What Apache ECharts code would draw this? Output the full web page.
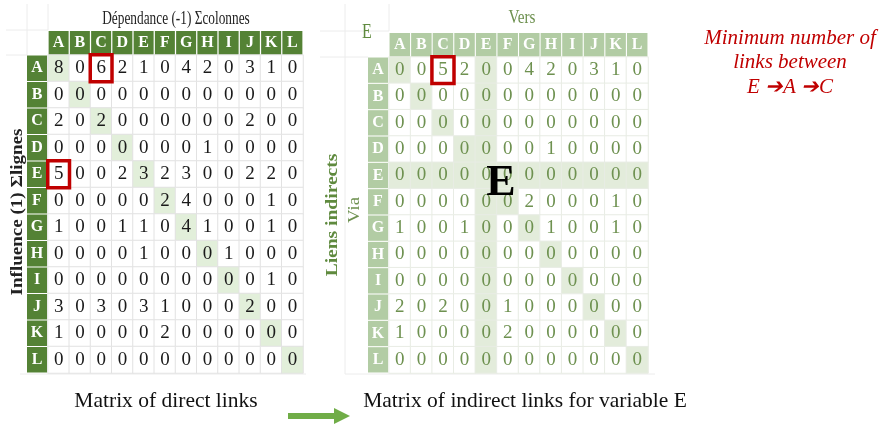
<!DOCTYPE html>
<html><head><meta charset="utf-8">
<script src="https://cdn.jsdelivr.net/npm/echarts@6/dist/echarts.min.js"></script>
<style>html,body{margin:0;padding:0;background:#fff;}#c{width:881px;height:426px;}</style>
</head><body><div id="c"></div>
<script>
// ---- data ----
var categories = ['A','B','C','D','E','F','G','H','I','J','K','L'];
// Matrix of direct links (rows = influence, cols = dependence)
var directA = [8,0,6,2,1,0,4,2,0,3,1,0];
var directB = [0,0,0,0,0,0,0,0,0,0,0,0];
var directC = [2,0,2,0,0,0,0,0,0,2,0,0];
var directD = [0,0,0,0,0,0,0,1,0,0,0,0];
var directE = [5,0,0,2,3,2,3,0,0,2,2,0];
var directF = [0,0,0,0,0,2,4,0,0,0,1,0];
var directG = [1,0,0,1,1,0,4,1,0,0,1,0];
var directH = [0,0,0,0,1,0,0,0,1,0,0,0];
var directI = [0,0,0,0,0,0,0,0,0,0,1,0];
var directJ = [3,0,3,0,3,1,0,0,0,2,0,0];
var directK = [1,0,0,0,0,2,0,0,0,0,0,0];
var directL = [0,0,0,0,0,0,0,0,0,0,0,0];
var directRows = [directA,directB,directC,directD,directE,directF,directG,directH,directI,directJ,directK,directL];
// Matrix of indirect links via E
var indirA = [0,0,5,2,0,0,4,2,0,3,1,0];
var indirB = [0,0,0,0,0,0,0,0,0,0,0,0];
var indirC = [0,0,0,0,0,0,0,0,0,0,0,0];
var indirD = [0,0,0,0,0,0,0,1,0,0,0,0];
var indirE = [0,0,0,0,0,0,0,0,0,0,0,0];
var indirF = [0,0,0,0,0,0,2,0,0,0,1,0];
var indirG = [1,0,0,1,0,0,0,1,0,0,1,0];
var indirH = [0,0,0,0,0,0,0,0,0,0,0,0];
var indirI = [0,0,0,0,0,0,0,0,0,0,0,0];
var indirJ = [2,0,2,0,0,1,0,0,0,0,0,0];
var indirK = [1,0,0,0,0,2,0,0,0,0,0,0];
var indirL = [0,0,0,0,0,0,0,0,0,0,0,0];
var indirRows = [indirA,indirB,indirC,indirD,indirE,indirF,indirG,indirH,indirI,indirJ,indirK,indirL];
var viaVariable = 'E';
// highlighted cells [col, row]
var directBoxes = [['C','A'],['A','E']];
var indirBoxes = [['C','A']];

// ---- build ----
var SERIF = '"Liberation Serif","Times New Roman",serif';
var viaIdx = categories.indexOf(viaVariable);
function buildData(rows, shadeFn) {
  var out = [];
  rows.forEach(function (r, i) {
    r.forEach(function (v, j) {
      out.push({ value: [j, i, v], itemStyle: { color: shadeFn(i, j) } });
    });
  });
  return out;
}
var dData = buildData(directRows, function (i, j) { return i === j ? '#e2efda' : '#ffffff'; });
var iData = buildData(indirRows, function (i, j) {
  return (i === j || i === viaIdx || j === viaIdx) ? '#e3ecdb' : '#ffffff';
});
function boxData(list) {
  return list.map(function (b) { return [categories.indexOf(b[0]), categories.indexOf(b[1]), 0]; });
}

var G1 = { left: 48, top: 55, width: 255, height: 318 };
var G2 = { left: 389, top: 57, width: 259, height: 316 };

function xAx(gi, bg, w) {
  return {
    type: 'category', data: categories, gridIndex: gi, position: 'top',
    axisLine: { show: false }, axisTick: { show: false }, splitLine: { show: false },
    axisLabel: {
      interval: 0, margin: 0, color: '#ffffff', fontFamily: SERIF, fontWeight: 'bold', fontSize: 16,
      backgroundColor: bg, width: w, height: 24, lineHeight: 24, align: 'center'
    }
  };
}
function yAx(gi, bg, h) {
  return {
    type: 'category', data: categories, gridIndex: gi, inverse: true,
    axisLine: { show: false }, axisTick: { show: false }, splitLine: { show: false },
    axisLabel: {
      interval: 0, margin: 11, color: '#ffffff', fontFamily: SERIF, fontWeight: 'bold', fontSize: 16,
      backgroundColor: bg, width: 20, height: h, lineHeight: h, align: 'center', padding: 0
    }
  };
}

var faint = '#ececec';
function ln(x1, y1, x2, y2) {
  return { type: 'line', shape: { x1: x1, y1: y1, x2: x2, y2: y2 }, style: { stroke: faint, lineWidth: 1 }, silent: true };
}

var option = {
  animation: false,
  backgroundColor: '#ffffff',
  grid: [
    Object.assign({ containLabel: false }, G1),
    Object.assign({ containLabel: false }, G2)
  ],
  xAxis: [xAx(0, '#548235', 20), xAx(1, '#b2cca4', 20.5)],
  yAxis: [yAx(0, '#548235', 25.5), yAx(1, '#b2cca4', 25.3)],
  series: [
    {
      type: 'heatmap', xAxisIndex: 0, yAxisIndex: 0, data: dData,
      itemStyle: { borderColor: '#e2e2e2', borderWidth: 1 },
      label: { show: true, formatter: function (p) { return p.value[2]; }, color: '#1a1a1a', fontFamily: SERIF, fontSize: 19 },
      emphasis: { disabled: true }
    },
    {
      type: 'heatmap', xAxisIndex: 0, yAxisIndex: 0, data: boxData(directBoxes), z: 5,
      itemStyle: { color: 'rgba(0,0,0,0)', borderColor: '#c00000', borderWidth: 3.5 },
      label: { show: false }, emphasis: { disabled: true }
    },
    {
      type: 'heatmap', xAxisIndex: 1, yAxisIndex: 1, data: iData,
      itemStyle: { borderColor: '#e8ece4', borderWidth: 1 },
      label: { show: true, formatter: function (p) { return p.value[2]; }, color: '#6e9150', fontFamily: SERIF, fontSize: 19 },
      emphasis: { disabled: true }
    },
    {
      type: 'heatmap', xAxisIndex: 1, yAxisIndex: 1, data: boxData(indirBoxes), z: 5,
      itemStyle: { color: 'rgba(0,0,0,0)', borderColor: '#c00000', borderWidth: 3.5 },
      label: { show: false }, emphasis: { disabled: true }
    }
  ],
  graphic: [
    // faint spreadsheet lines
    ln(27, 4, 27, 55), ln(48, 4, 48, 30), ln(6, 30, 48, 30), ln(6, 55, 27, 55), ln(20, 374, 306, 374),
    ln(345, 4, 345, 374), ln(389, 4, 389, 31), ln(320, 31, 389, 31), ln(320, 57, 368, 57), ln(345, 374, 655, 374),
    { type: 'text', x: 176, y: 19, scaleX: 0.74, style: { text: 'Dépendance (-1) Σcolonnes', font: '18px ' + SERIF, fill: '#222', align: 'center', verticalAlign: 'middle' } },
    { type: 'text', x: 18, y: 212, rotation: Math.PI / 2, scaleX: 1.12, style: { text: 'Influence (1) Σlignes', font: 'bold 17px ' + SERIF, fill: '#222', align: 'center', verticalAlign: 'middle' } },
    { type: 'text', x: 522, y: 18, scaleX: 0.8, style: { text: 'Vers', font: '19px ' + SERIF, fill: '#6e9150', align: 'center', verticalAlign: 'middle' } },
    { type: 'text', x: 367, y: 33, scaleX: 0.8, style: { text: viaVariable, font: '20px ' + SERIF, fill: '#5f8a3e', align: 'center', verticalAlign: 'middle' } },
    { type: 'text', x: 333, y: 215, rotation: Math.PI / 2, scaleX: 1.22, style: { text: 'Liens indirects', font: 'bold 16px ' + SERIF, fill: '#5f8a3e', align: 'center', verticalAlign: 'middle' } },
    { type: 'text', x: 355, y: 210, rotation: Math.PI / 2, scaleX: 1.1, style: { text: 'Via', font: '17px ' + SERIF, fill: '#6e9150', align: 'center', verticalAlign: 'middle' } },
    { type: 'text', x: 501, y: 184, z: 10, style: { text: viaVariable, font: 'bold 44px ' + SERIF, fill: '#000', align: 'center', verticalAlign: 'middle' } },
    { type: 'text', x: 790, y: 38, style: { text: 'Minimum number of', font: 'italic 21px ' + SERIF, fill: '#c00000', align: 'center', verticalAlign: 'middle' } },
    { type: 'text', x: 790, y: 62, style: { text: 'links between', font: 'italic 21px ' + SERIF, fill: '#c00000', align: 'center', verticalAlign: 'middle' } },
    { type: 'text', x: 790, y: 87, style: { text: 'E \u2794A \u2794C', font: 'italic 21px ' + SERIF, fill: '#c00000', align: 'center', verticalAlign: 'middle' } },
    { type: 'text', x: 166, y: 401, style: { text: 'Matrix of direct links', font: '21.5px ' + SERIF, fill: '#111', align: 'center', verticalAlign: 'middle' } },
    { type: 'text', x: 525, y: 401, style: { text: 'Matrix of indirect links for variable E', font: '21.5px ' + SERIF, fill: '#111', align: 'center', verticalAlign: 'middle' } },
    { type: 'polygon', shape: { points: [[288, 413], [334, 413], [334, 408], [350, 416], [334, 424], [334, 419], [288, 419]] }, style: { fill: '#70ad47' } }
  ]
};
var chart = echarts.init(document.getElementById('c'), null, { renderer: 'canvas' });
chart.setOption(option);
</script>
</body></html>
